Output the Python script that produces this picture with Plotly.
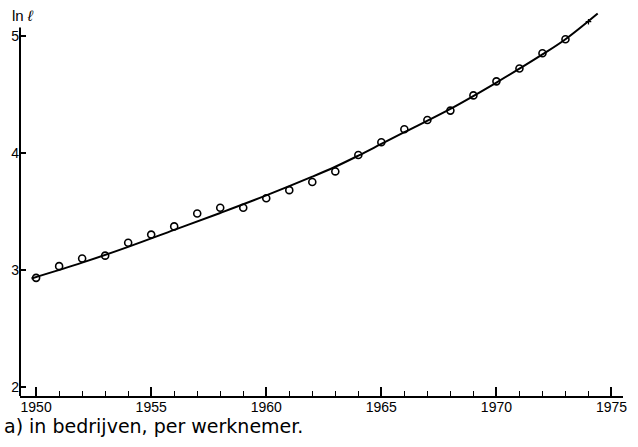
import plotly.graph_objects as go

# Observed data points (open circles)
years = list(range(1950, 1974))
ln_l = [2.93, 3.03, 3.095, 3.12, 3.23, 3.30, 3.37, 3.48, 3.53, 3.53, 3.61, 3.68,
        3.75, 3.84, 3.98, 4.09, 4.20, 4.28, 4.36, 4.49, 4.61, 4.72, 4.85, 4.97]

# Small cross mark for 1974
extra_year = [1974]
extra_val = [5.12]

# Fitted trend curve
curve_years = [1949.8, 1952, 1954, 1956, 1958, 1960, 1962, 1963, 1964, 1965, 1966, 1968, 1970, 1972, 1973, 1974.4]
curve_vals = [2.925, 3.06, 3.195, 3.34, 3.485, 3.635, 3.795, 3.88, 3.975, 4.075, 4.175, 4.375, 4.60, 4.84, 4.97, 5.19]

x_ticks = [1950, 1955, 1960, 1965, 1970, 1975]
y_ticks = [2, 3, 4, 5]
y_axis_top = 5.07

fig = go.Figure()
fig.add_trace(go.Scatter(x=curve_years, y=curve_vals, mode="lines",
                         line=dict(color="black", width=2, shape="spline", smoothing=1.0),
                         hoverinfo="skip"))
fig.add_trace(go.Scatter(x=years, y=ln_l, mode="markers",
                         marker=dict(symbol="circle-open", size=7, color="black",
                                     line=dict(width=1.6, color="black"))))
fig.add_trace(go.Scatter(x=extra_year, y=extra_val, mode="markers",
                         marker=dict(symbol="cross-thin-open", size=4, color="black",
                                     line=dict(width=1.2, color="black"))))

fig.update_layout(
    width=638, height=447,
    margin=dict(l=20, r=15, t=10, b=51),
    paper_bgcolor="white", plot_bgcolor="white",
    showlegend=False,
    font=dict(family="Liberation Sans, Arial, sans-serif", color="black", size=14),
)
fig.update_xaxes(
    range=[1949.3, 1975.5], showgrid=False, zeroline=False,
    showline=True, linecolor="black", linewidth=2,
    tickmode="array", tickvals=x_ticks, ticktext=[str(v) for v in x_ticks],
    ticks="inside", ticklen=9, tickwidth=1.5, tickcolor="black",
    minor=dict(dtick=1, tick0=1950, ticks="inside", ticklen=5, tickwidth=1.3, tickcolor="black"),
    tickfont=dict(size=14), automargin=False, ticklabelstandoff=-3,
)
fig.update_yaxes(
    range=[1.92, 5.22], showgrid=False, zeroline=False,
    showline=False,
    tickmode="array", tickvals=y_ticks, ticktext=[str(v) for v in y_ticks],
    ticks="inside", ticklen=6, tickwidth=1.5, tickcolor="black",
    tickfont=dict(size=14), automargin=False,
)
# vertical axis line stopping just above the 5 tick
fig.add_shape(type="line", xref="paper", yref="y", x0=0, x1=0, y0=1.92, y1=y_axis_top,
              line=dict(color="black", width=2))
fig.add_annotation(text="ln <i>ℓ</i>", xref="paper", yref="paper", x=0.005, y=0.985,
                   showarrow=False, font=dict(size=15), xanchor="center", yanchor="middle")
fig.add_annotation(text="a) in bedrijven, per werknemer.", xref="paper", yref="paper",
                   x=-0.03, y=-0.077, showarrow=False,
                   font=dict(size=19, family="DejaVu Sans, sans-serif"),
                   xanchor="left", yanchor="middle")

fig.write_html("out.html", config={"displayModeBar": False},
               post_script="document.body.style.margin='0';")
